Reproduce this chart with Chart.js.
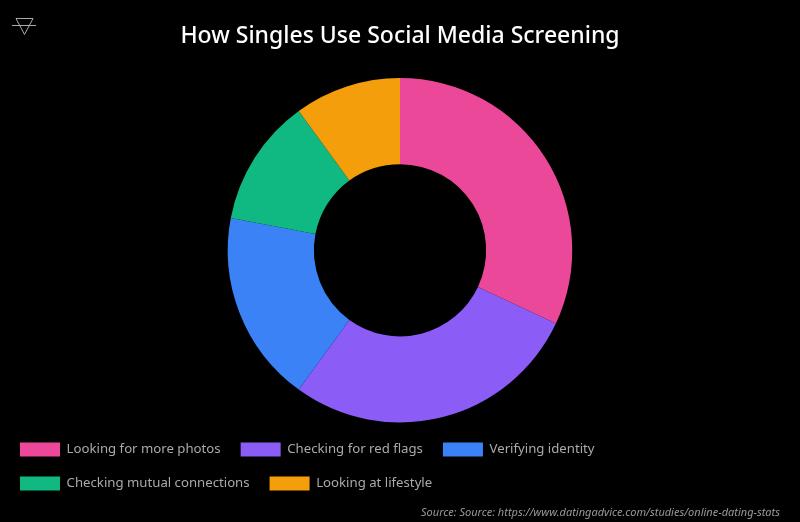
<!DOCTYPE html>
<html>
<head>
<meta charset="utf-8">
<script src="https://cdn.jsdelivr.net/npm/chart.js@4"></script>
<style>
    html, body { margin: 0; padding: 0; background: #000; }
    #wrap { position: relative; width: 800px; height: 522px; }
    #logo { position: absolute; left: 12px; top: 17px; }
</style>
</head>
<body>
<div id="wrap">
    <canvas id="chart" width="800" height="522"></canvas>
    <svg id="logo" width="24" height="20" viewBox="0 0 24 20" fill="none" stroke="#aaa" stroke-width="1">
        <path d="M4 1.5 H21 L12.5 17.5 Z"/>
        <path d="M0 8.5 H24"/>
    </svg>
</div>
<script>
const categories = ['Looking for more photos', 'Checking for red flags', 'Verifying identity', 'Checking mutual connections', 'Looking at lifestyle'];
const shares = [32, 28, 18, 12, 10];
const colors = ['#ec4899', '#8b5cf6', '#3b82f6', '#10b981', '#f59e0b'];
const titleText = 'How Singles Use Social Media Screening';
const sourceText = 'Source: Source: https://www.datingadvice.com/studies/online-dating-stats';
const fontName = '"Noto Sans", sans-serif';

// source line sits under the legend, right aligned
const sourcePlugin = {
    id: 'sourceLine',
    afterDraw(chart) {
        const c = chart.ctx;
        c.save();
        c.font = 'italic 11px ' + fontName;
        c.fillStyle = '#999';
        c.textAlign = 'right';
        c.textBaseline = 'middle';
        c.fillText(sourceText, 780, 513);
        c.restore();
    }
};

new Chart(document.getElementById('chart'), {
    type: 'doughnut',
    data: {
        labels: categories,
        datasets: [{
            data: shares,
            backgroundColor: colors,
            borderWidth: 0
        }]
    },
    options: {
        responsive: false,
        animation: false,
        cutout: '50%',
        layout: { padding: { bottom: 21.5 } },
        plugins: {
            title: {
                display: true,
                text: titleText,
                color: '#fff',
                font: { family: fontName, size: 23, weight: '500' },
                padding: { top: 22.6, bottom: 27.8 }
            },
            legend: {
                position: 'bottom',
                align: 'start',
                labels: {
                    color: '#aaa',
                    boxWidth: 40,
                    boxHeight: 14,
                    padding: 20,
                    font: { family: fontName, size: 13.2 }
                }
            },
            tooltip: { enabled: false }
        }
    },
    plugins: [sourcePlugin]
});
</script>
</body>
</html>
